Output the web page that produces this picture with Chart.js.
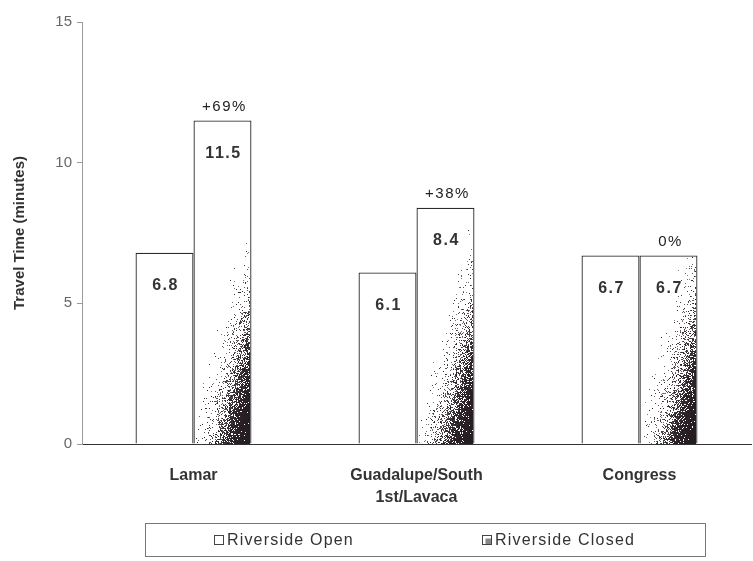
<!DOCTYPE html>
<html>
<head>
<meta charset="utf-8">
<script src="https://cdn.jsdelivr.net/npm/chart.js@4.4.1/dist/chart.umd.min.js"></script>
<style>
  html, body { margin: 0; padding: 0; background: #fff; }
  #wrap { width: 753px; height: 561px; }
</style>
</head>
<body>
<div id="wrap"><canvas id="c" width="753" height="561"></canvas></div>
<script>
// Travel time per corridor, with Riverside open vs. closed (minutes)
const routes = [['Lamar'], ['Guadalupe/South', '1st/Lavaca'], ['Congress']];
const riversideOpen = [6.8, 6.1, 6.7];
const riversideClosed = [11.5, 8.4, 6.7];
const yTicks = [0, 5, 10, 15];
const seriesNames = ['Riverside Open', 'Riverside Closed'];
const yTitle = 'Travel Time (minutes)';

const FONT = '"Liberation Sans", Arial, sans-serif';

// percentage change label from the two series
function changeLabel(i) {
  const pct = Math.round((riversideClosed[i] - riversideOpen[i]) / riversideOpen[i] * 100);
  return (pct > 0 ? '+' : '') + pct + '%';
}

// cheap deterministic hash for the stipple texture
function hash(x, y, k) {
  const s = Math.sin(x * 12.9898 + y * 78.233 + k * 37.719) * 43758.5453;
  return s - Math.floor(s);
}

// dark grainy shading toward the lower right corner of the "closed" bars
const grainPlugin = {
  id: 'grain',
  afterDatasetDraw(chart, args) {
    if (args.index !== 1) return;
    const ctx = chart.ctx;
    ctx.save();
    args.meta.data.forEach(bar => {
      const left = Math.round(bar.x - bar.width / 2) + 1;
      const right = Math.round(bar.x + bar.width / 2) - 1;
      const top = Math.round(bar.y) + 1;
      const base = Math.round(bar.base);
      for (let py = top; py < base; py++) {
        const v = base - py;
        for (let px = left; px < right; px++) {
          const u = right - px;
          const t = u / 58 + v / 220;
          const p = 1 / (1 + Math.exp((t - 0.55) / 0.12));
          if (p < 0.01) continue;
          if (hash(px, py, 1) < p) {
            const g = 28 + Math.floor(hash(px, py, 2) * 110 * (1 - p));
            ctx.fillStyle = 'rgb(' + (g + 8) + ',' + g + ',' + (g + 4) + ')';
            ctx.fillRect(px, py, 1, 1);
          }
        }
      }
    });
    ctx.restore();
  }
};

// value labels inside the bars and change labels above the closed bars
const labelPlugin = {
  id: 'barLabels',
  afterDatasetsDraw(chart) {
    const ctx = chart.ctx;
    ctx.save();
    ctx.textAlign = 'center';
    ctx.textBaseline = 'middle';
    ctx.fillStyle = '#333';
    ctx.font = 'bold 16px ' + FONT;
    ctx.letterSpacing = '1.5px';
    chart.data.datasets.forEach((ds, di) => {
      chart.getDatasetMeta(di).data.forEach((bar, i) => {
        ctx.fillText(ds.data[i].toFixed(1), bar.x + 1, bar.y + 33);
      });
    });
    ctx.font = '15px ' + FONT;
    ctx.fillStyle = '#222';
    chart.getDatasetMeta(1).data.forEach((bar, i) => {
      ctx.fillText(changeLabel(i), bar.x + 2, bar.y - 14);
    });
    ctx.restore();
  }
};

// boxed legend under the plot
const boxLegendPlugin = {
  id: 'boxLegend',
  afterDraw(chart) {
    const ctx = chart.ctx;
    const area = chart.chartArea;
    const cx = (area.left + area.right) / 2 + 8;
    const boxW = 560, boxTop = chart.height - 38, boxH = 33;
    const cy = boxTop + 16.5;
    ctx.save();
    ctx.strokeStyle = '#777';
    ctx.lineWidth = 1;
    ctx.strokeRect(Math.round(cx - boxW / 2) + 0.5, boxTop + 0.5, boxW, boxH);

    ctx.font = '16px ' + FONT;
    ctx.letterSpacing = '1.2px';
    ctx.textBaseline = 'middle';
    ctx.textAlign = 'left';
    const sq = 9, sqGap = 4, itemGap = 128;
    const widths = seriesNames.map(n => sq + sqGap + ctx.measureText(n).width);
    let x = cx - (widths[0] + itemGap + widths[1]) / 2;
    seriesNames.forEach((name, i) => {
      const sx = Math.round(x) + 0.5, sy = Math.round(cy - sq / 2) + 0.5;
      ctx.fillStyle = '#fff';
      ctx.fillRect(sx, sy, sq, sq);
      if (i === 1) {
        ctx.fillStyle = '#888';
        ctx.fillRect(sx + 3, sy + 3, sq - 3, sq - 3);
      }
      ctx.strokeStyle = '#444';
      ctx.strokeRect(sx, sy, sq, sq);
      ctx.fillStyle = '#333';
      ctx.fillText(name, x + sq + sqGap, cy + 1);
      x += widths[i] + itemGap;
    });
    ctx.restore();
  }
};

new Chart(document.getElementById('c'), {
  type: 'bar',
  data: {
    labels: routes,
    datasets: [
      {
        label: seriesNames[0],
        data: riversideOpen,
        backgroundColor: '#fff',
        borderColor: '#2b2b2b',
        borderWidth: 1.3
      },
      {
        label: seriesNames[1],
        data: riversideClosed,
        backgroundColor: '#fff',
        borderColor: '#2b2b2b',
        borderWidth: 1.3
      }
    ]
  },
  options: {
    responsive: false,
    animation: false,
    devicePixelRatio: 1,
    layout: { padding: { top: 22, right: 2, left: 0, bottom: 0 } },
    datasets: {
      bar: { barPercentage: 1, categoryPercentage: 0.52 }
    },
    plugins: {
      legend: { display: false },
      tooltip: { enabled: false }
    },
    scales: {
      x: {
        grid: { display: false, drawTicks: false },
        border: { display: true, color: '#333', width: 1 },
        ticks: {
          color: '#333',
          font: { family: FONT, size: 16, weight: 'bold', lineHeight: 1.4 },
          padding: 20,
          maxRotation: 0,
          autoSkip: false
        },
        afterFit(scale) { scale.height = 117; }
      },
      y: {
        min: 0,
        max: 15,
        afterBuildTicks(scale) { scale.ticks = yTicks.map(v => ({ value: v })); },
        grid: { drawOnChartArea: false, tickLength: 5, color: '#999' },
        border: { color: '#9a9a9a', width: 1 },
        ticks: {
          color: '#666',
          font: { family: FONT, size: 15 },
          padding: 5
        },
        title: {
          display: true,
          text: yTitle,
          color: '#333',
          font: { family: FONT, size: 15, weight: 'bold' },
          padding: { top: 11, bottom: 0 }
        },
        afterFit(scale) { scale.width = 82; }
      }
    }
  },
  plugins: [grainPlugin, labelPlugin, boxLegendPlugin]
});
</script>
</body>
</html>
